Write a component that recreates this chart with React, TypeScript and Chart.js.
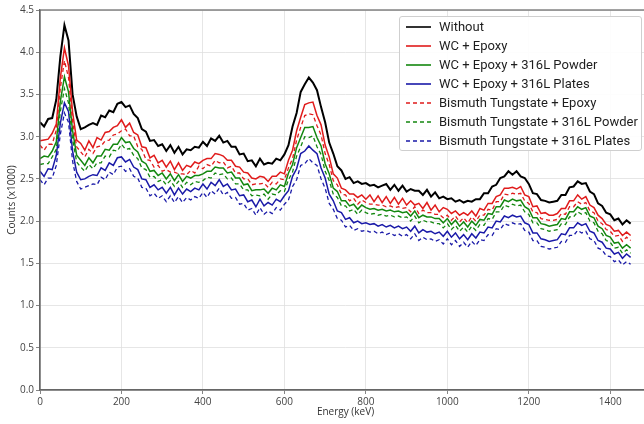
import React, { useEffect, useRef } from "react";
import { Chart, registerables } from "chart.js";

Chart.register(...registerables);

const energyKeV = [
  0, 10, 20, 30, 40, 50, 60, 70, 80, 90, 100, 110, 120, 130, 140, 150, 160, 170, 180, 190,
  200, 210, 220, 230, 240, 250, 260, 270, 280, 290, 300, 310, 320, 330, 340, 350, 360, 370, 380, 390,
  400, 410, 420, 430, 440, 450, 460, 470, 480, 490, 500, 510, 520, 530, 540, 550, 560, 570, 580, 590,
  600, 610, 620, 630, 640, 650, 660, 670, 680, 690, 700, 710, 720, 730, 740, 750, 760, 770, 780, 790,
  800, 810, 820, 830, 840, 850, 860, 870, 880, 890, 900, 910, 920, 930, 940, 950, 960, 970, 980, 990,
  1000, 1010, 1020, 1030, 1040, 1050, 1060, 1070, 1080, 1090, 1100, 1110, 1120, 1130, 1140, 1150, 1160, 1170, 1180, 1190,
  1200, 1210, 1220, 1230, 1240, 1250, 1260, 1270, 1280, 1290, 1300, 1310, 1320, 1330, 1340, 1350, 1360, 1370, 1380, 1390,
  1400, 1410, 1420, 1430, 1440, 1450,
];

const without = [
  3.17, 3.12, 3.21, 3.22, 3.44, 3.95, 4.32, 4.14, 3.50, 3.24, 3.09, 3.11, 3.14, 3.16, 3.14, 3.25, 3.23, 3.31, 3.29, 3.39,
  3.41, 3.35, 3.37, 3.27, 3.22, 3.09, 3.06, 2.95, 2.96, 2.89, 2.91, 2.83, 2.90, 2.81, 2.88, 2.79, 2.85, 2.84, 2.88, 2.87,
  2.94, 2.89, 2.98, 2.95, 3.01, 2.93, 2.95, 2.88, 2.88, 2.79, 2.80, 2.71, 2.72, 2.65, 2.74, 2.67, 2.69, 2.68, 2.74, 2.72,
  2.79, 2.90, 3.12, 3.28, 3.53, 3.62, 3.70, 3.64, 3.55, 3.35, 3.17, 2.93, 2.80, 2.65, 2.60, 2.50, 2.52, 2.45, 2.47, 2.44,
  2.45, 2.42, 2.43, 2.40, 2.42, 2.44, 2.37, 2.43, 2.36, 2.42, 2.35, 2.38, 2.36, 2.36, 2.31, 2.37, 2.29, 2.34, 2.27, 2.29,
  2.26, 2.27, 2.23, 2.25, 2.22, 2.24, 2.23, 2.26, 2.26, 2.33, 2.33, 2.41, 2.43, 2.51, 2.53, 2.59, 2.55, 2.59, 2.53, 2.51,
  2.44, 2.33, 2.32, 2.25, 2.24, 2.22, 2.23, 2.24, 2.31, 2.31, 2.40, 2.41, 2.47, 2.44, 2.45, 2.35, 2.32, 2.21, 2.18, 2.10,
  2.08, 2.01, 2.03, 1.96, 2.01, 1.97,
];

const wcEpoxy = [
  2.95, 2.96, 2.97, 3.04, 3.15, 3.70, 4.05, 3.84, 3.29, 2.96, 2.92, 2.84, 2.95, 2.87, 2.99, 2.96, 3.05, 3.06, 3.11, 3.13,
  3.20, 3.11, 3.16, 3.05, 3.02, 2.88, 2.87, 2.75, 2.78, 2.69, 2.72, 2.64, 2.71, 2.61, 2.69, 2.60, 2.66, 2.64, 2.70, 2.68,
  2.72, 2.74, 2.74, 2.80, 2.79, 2.77, 2.72, 2.72, 2.65, 2.64, 2.58, 2.57, 2.51, 2.50, 2.53, 2.52, 2.47, 2.53, 2.53, 2.58,
  2.56, 2.72, 2.84, 3.07, 3.23, 3.38, 3.40, 3.41, 3.25, 3.14, 2.90, 2.76, 2.56, 2.51, 2.39, 2.37, 2.32, 2.32, 2.28, 2.31,
  2.26, 2.31, 2.23, 2.30, 2.22, 2.29, 2.21, 2.28, 2.20, 2.27, 2.19, 2.24, 2.19, 2.21, 2.15, 2.22, 2.13, 2.19, 2.11, 2.16,
  2.14, 2.09, 2.12, 2.07, 2.10, 2.07, 2.12, 2.06, 2.15, 2.13, 2.21, 2.21, 2.29, 2.31, 2.39, 2.39, 2.40, 2.38, 2.41, 2.31,
  2.29, 2.17, 2.18, 2.09, 2.10, 2.07, 2.07, 2.09, 2.15, 2.15, 2.24, 2.24, 2.31, 2.26, 2.29, 2.19, 2.16, 2.07, 2.03, 1.96,
  1.94, 1.88, 1.89, 1.83, 1.87, 1.83,
];

const wcEpoxyPowder = [
  2.74, 2.77, 2.76, 2.83, 2.94, 3.42, 3.71, 3.53, 3.07, 2.78, 2.72, 2.66, 2.75, 2.69, 2.77, 2.77, 2.85, 2.84, 2.91, 2.91,
  2.99, 2.93, 2.94, 2.86, 2.82, 2.71, 2.68, 2.59, 2.60, 2.54, 2.57, 2.50, 2.56, 2.48, 2.55, 2.47, 2.53, 2.51, 2.54, 2.54,
  2.56, 2.59, 2.59, 2.64, 2.63, 2.63, 2.57, 2.58, 2.51, 2.51, 2.43, 2.44, 2.36, 2.37, 2.37, 2.38, 2.33, 2.39, 2.37, 2.43,
  2.41, 2.57, 2.67, 2.87, 2.99, 3.11, 3.11, 3.12, 2.99, 2.89, 2.68, 2.56, 2.39, 2.35, 2.24, 2.24, 2.18, 2.20, 2.14, 2.19,
  2.16, 2.14, 2.15, 2.13, 2.14, 2.12, 2.13, 2.11, 2.12, 2.10, 2.11, 2.06, 2.12, 2.04, 2.07, 2.05, 2.05, 2.03, 2.03, 1.98,
  2.03, 1.96, 2.01, 1.94, 1.99, 1.93, 2.00, 1.95, 2.02, 2.01, 2.09, 2.08, 2.17, 2.17, 2.25, 2.23, 2.26, 2.24, 2.25, 2.17,
  2.14, 2.04, 2.04, 1.97, 1.96, 1.94, 1.95, 1.96, 2.03, 2.02, 2.11, 2.11, 2.17, 2.14, 2.16, 2.06, 2.04, 1.94, 1.91, 1.83,
  1.81, 1.74, 1.75, 1.68, 1.72, 1.68,
];

const wcEpoxyPlates = [
  2.59, 2.53, 2.62, 2.61, 2.78, 3.16, 3.40, 3.30, 2.83, 2.58, 2.49, 2.50, 2.53, 2.55, 2.54, 2.63, 2.60, 2.69, 2.66, 2.75,
  2.76, 2.70, 2.73, 2.64, 2.61, 2.50, 2.49, 2.40, 2.43, 2.37, 2.40, 2.33, 2.40, 2.31, 2.39, 2.32, 2.38, 2.35, 2.39, 2.37,
  2.44, 2.38, 2.46, 2.42, 2.49, 2.41, 2.44, 2.37, 2.38, 2.30, 2.31, 2.23, 2.25, 2.17, 2.26, 2.18, 2.22, 2.19, 2.26, 2.23,
  2.30, 2.36, 2.53, 2.62, 2.80, 2.83, 2.89, 2.84, 2.80, 2.63, 2.51, 2.32, 2.24, 2.12, 2.10, 2.02, 2.04, 1.98, 2.00, 1.97,
  1.98, 1.96, 1.97, 1.94, 1.96, 1.93, 1.95, 1.92, 1.94, 1.91, 1.93, 1.88, 1.94, 1.86, 1.90, 1.87, 1.88, 1.85, 1.87, 1.82,
  1.88, 1.81, 1.86, 1.79, 1.84, 1.78, 1.85, 1.80, 1.87, 1.86, 1.93, 1.92, 2.00, 1.99, 2.06, 2.04, 2.07, 2.05, 2.06, 1.98,
  1.96, 1.86, 1.86, 1.79, 1.78, 1.76, 1.77, 1.78, 1.85, 1.84, 1.92, 1.92, 1.98, 1.95, 1.97, 1.88, 1.86, 1.77, 1.75, 1.68,
  1.67, 1.61, 1.63, 1.56, 1.61, 1.57,
];

const btEpoxy = [
  2.90, 2.84, 2.91, 2.91, 3.08, 3.58, 3.90, 3.70, 3.18, 2.88, 2.82, 2.76, 2.85, 2.80, 2.88, 2.89, 2.95, 2.96, 3.02, 3.03,
  3.07, 3.09, 3.01, 3.01, 2.88, 2.85, 2.73, 2.72, 2.64, 2.66, 2.59, 2.61, 2.58, 2.58, 2.56, 2.56, 2.55, 2.60, 2.57, 2.65,
  2.62, 2.67, 2.65, 2.72, 2.69, 2.70, 2.63, 2.65, 2.57, 2.57, 2.50, 2.50, 2.43, 2.44, 2.44, 2.45, 2.40, 2.46, 2.44, 2.50,
  2.49, 2.63, 2.74, 2.96, 3.11, 3.25, 3.27, 3.26, 3.13, 3.02, 2.80, 2.67, 2.48, 2.43, 2.32, 2.31, 2.24, 2.27, 2.20, 2.25,
  2.22, 2.20, 2.20, 2.19, 2.19, 2.17, 2.18, 2.16, 2.17, 2.15, 2.16, 2.11, 2.17, 2.09, 2.13, 2.10, 2.10, 2.08, 2.08, 2.04,
  2.07, 2.01, 2.06, 1.99, 2.04, 1.98, 2.05, 2.00, 2.07, 2.07, 2.14, 2.13, 2.23, 2.23, 2.32, 2.31, 2.33, 2.32, 2.33, 2.24,
  2.21, 2.11, 2.10, 2.03, 2.02, 2.01, 2.01, 2.02, 2.09, 2.08, 2.17, 2.17, 2.23, 2.20, 2.22, 2.12, 2.10, 2.00, 1.97, 1.90,
  1.88, 1.82, 1.83, 1.76, 1.81, 1.77,
];

const btPowder = [
  2.67, 2.68, 2.68, 2.76, 2.85, 3.30, 3.57, 3.40, 2.97, 2.70, 2.64, 2.59, 2.67, 2.62, 2.69, 2.69, 2.77, 2.76, 2.84, 2.83,
  2.91, 2.85, 2.86, 2.78, 2.74, 2.63, 2.61, 2.52, 2.53, 2.47, 2.49, 2.43, 2.48, 2.41, 2.47, 2.40, 2.46, 2.43, 2.47, 2.46,
  2.48, 2.52, 2.51, 2.57, 2.55, 2.56, 2.50, 2.51, 2.44, 2.44, 2.37, 2.37, 2.30, 2.31, 2.30, 2.32, 2.26, 2.32, 2.31, 2.36,
  2.35, 2.49, 2.58, 2.77, 2.88, 3.00, 2.99, 3.01, 2.88, 2.79, 2.59, 2.48, 2.32, 2.28, 2.18, 2.18, 2.12, 2.14, 2.08, 2.13,
  2.10, 2.08, 2.09, 2.07, 2.08, 2.06, 2.07, 2.05, 2.06, 2.04, 2.05, 2.00, 2.06, 1.98, 2.01, 1.99, 1.99, 1.97, 1.97, 1.92,
  1.97, 1.90, 1.95, 1.88, 1.93, 1.87, 1.94, 1.89, 1.96, 1.95, 2.03, 2.02, 2.11, 2.11, 2.19, 2.17, 2.20, 2.18, 2.19, 2.11,
  2.08, 1.98, 1.98, 1.91, 1.90, 1.88, 1.89, 1.90, 1.97, 1.96, 2.05, 2.05, 2.11, 2.08, 2.10, 2.00, 1.98, 1.88, 1.85, 1.77,
  1.75, 1.68, 1.69, 1.62, 1.66, 1.62,
];

const btPlates = [
  2.49, 2.43, 2.51, 2.51, 2.66, 3.03, 3.28, 3.17, 2.71, 2.47, 2.38, 2.40, 2.42, 2.44, 2.43, 2.52, 2.49, 2.58, 2.55, 2.64,
  2.65, 2.59, 2.62, 2.53, 2.51, 2.40, 2.39, 2.30, 2.33, 2.27, 2.30, 2.23, 2.30, 2.22, 2.29, 2.22, 2.28, 2.25, 2.29, 2.27,
  2.34, 2.28, 2.36, 2.32, 2.39, 2.31, 2.34, 2.27, 2.28, 2.20, 2.21, 2.13, 2.15, 2.07, 2.16, 2.08, 2.12, 2.09, 2.16, 2.13,
  2.20, 2.25, 2.41, 2.49, 2.66, 2.68, 2.74, 2.69, 2.66, 2.50, 2.39, 2.21, 2.14, 2.03, 2.01, 1.93, 1.95, 1.89, 1.91, 1.88,
  1.89, 1.87, 1.88, 1.85, 1.87, 1.84, 1.86, 1.83, 1.85, 1.82, 1.84, 1.79, 1.85, 1.77, 1.81, 1.78, 1.79, 1.76, 1.78, 1.73,
  1.79, 1.72, 1.77, 1.70, 1.75, 1.69, 1.76, 1.71, 1.78, 1.77, 1.84, 1.83, 1.91, 1.90, 1.97, 1.95, 1.98, 1.96, 1.97, 1.89,
  1.87, 1.77, 1.77, 1.70, 1.69, 1.67, 1.68, 1.69, 1.76, 1.75, 1.83, 1.83, 1.89, 1.86, 1.88, 1.79, 1.77, 1.68, 1.66, 1.59,
  1.58, 1.52, 1.54, 1.48, 1.52, 1.49,
];

const seriesLabels = [
  "Without",
  "WC + Epoxy",
  "WC + Epoxy + 316L Powder",
  "WC + Epoxy + 316L Plates",
  "Bismuth Tungstate + Epoxy",
  "Bismuth Tungstate + 316L Powder",
  "Bismuth Tungstate + 316L Plates",
];
const seriesValues = [without, wcEpoxy, wcEpoxyPowder, wcEpoxyPlates, btEpoxy, btPowder, btPlates];
const seriesColors = ["#000000", "#e01b1b", "#13870f", "#1a1aa8", "#e01b1b", "#13870f", "#1a1aa8"];
const seriesDashed = [false, false, false, false, true, true, true];
const seriesWidths = [2, 1.5, 1.5, 1.5, 1.3, 1.3, 1.3];

const xTicks = [0, 200, 400, 600, 800, 1000, 1200, 1400];
const yTicks = [0, 0.5, 1, 1.5, 2, 2.5, 3, 3.5, 4, 4.5];

const FONT = "'Open Sans', 'Noto Sans', sans-serif";

const framePlugin = {
  id: "frame",
  afterDraw(chart: any) {
    const { ctx, chartArea: a } = chart;
    ctx.save();
    ctx.strokeStyle = "#666666";
    ctx.lineWidth = 1.2;
    ctx.strokeRect(a.left, a.top, a.right - a.left, a.bottom - a.top);
    ctx.restore();
  },
};

function LegendBox() {
  return (
    <div
      style={{
        position: "absolute",
        left: 399,
        top: 16,
        width: 243,
        height: 135,
        background: "rgba(255,255,255,0.92)",
        border: "1px solid #cfcfcf",
        borderRadius: 3,
        fontFamily: "Roboto, 'Noto Sans', sans-serif",
        fontSize: 13,
        color: "#1e1e1e",
        boxSizing: "border-box",
        paddingTop: 0,
      }}
    >
      {seriesLabels.map((label, i) => (
        <div key={label} style={{ height: 19, display: "flex", alignItems: "center", whiteSpace: "nowrap" }}>
          <svg width={34} height={19} style={{ marginLeft: 5, flex: "none" }}>
            <line
              x1={1}
              y1={10}
              x2={26}
              y2={10}
              stroke={seriesColors[i]}
              strokeWidth={1.6}
              strokeDasharray={seriesDashed[i] ? "4 3" : undefined}
            />
          </svg>
          <span>{label}</span>
        </div>
      ))}
    </div>
  );
}

export default function App() {
  const canvasRef = useRef<HTMLCanvasElement | null>(null);

  useEffect(() => {
    const canvas = canvasRef.current;
    if (!canvas) return;
    const datasets = seriesValues.map((vals, i) => ({
      label: seriesLabels[i],
      data: energyKeV.map((e, j) => ({ x: e, y: vals[j] })),
      borderColor: seriesColors[i],
      backgroundColor: seriesColors[i],
      borderWidth: seriesWidths[i],
      borderDash: seriesDashed[i] ? [4, 3] : [],
      pointRadius: 0,
      tension: 0,
      fill: false,
      order: 7 - i,
    }));
    const chart = new Chart(canvas, {
      type: "line",
      data: { datasets },
      plugins: [framePlugin],
      options: {
        animation: false,
        responsive: true,
        maintainAspectRatio: false,
        layout: { padding: { top: 10, left: 0, right: 0, bottom: 0 } },
        plugins: { legend: { display: false }, tooltip: { enabled: false } },
        scales: {
          x: {
            type: "linear",
            min: 0,
            max: 1500,
            afterBuildTicks: (scale: any) => {
              scale.ticks = xTicks.map((v) => ({ value: v }));
            },
            afterFit: (scale: any) => {
              scale.height = 34;
            },
            ticks: {
              font: { family: FONT, size: 10 },
              color: "#444444",
              padding: 2,
              maxRotation: 0,
              callback: (v: any) => String(v),
            },
            grid: { color: "#e0e0e0", lineWidth: 0.8, tickColor: "#666666", tickLength: 4 },
            border: { color: "#666666", width: 1.2 },
            title: {
              display: true,
              text: "Energy (keV)",
              font: { family: FONT, size: 10 },
              color: "#333333",
              padding: { top: 0, bottom: 6 },
            },
          },
          y: {
            type: "linear",
            min: 0,
            max: 4.5,
            afterBuildTicks: (scale: any) => {
              scale.ticks = yTicks.map((v) => ({ value: v }));
            },
            afterFit: (scale: any) => {
              scale.width = 40;
            },
            ticks: {
              font: { family: FONT, size: 10 },
              color: "#444444",
              padding: 2,
              callback: (v: any) => Number(v).toFixed(1),
            },
            grid: { color: "#e0e0e0", lineWidth: 0.8, tickColor: "#666666", tickLength: 4 },
            border: { color: "#666666", width: 1.2 },
            title: {
              display: true,
              text: "Counts (x1000)",
              font: { family: FONT, size: 10 },
              color: "#333333",
              padding: { top: 6, bottom: 0 },
            },
          },
        },
      },
    });
    return () => chart.destroy();
  }, []);

  return (
    <div style={{ position: "fixed", left: 0, top: 0, width: 644, height: 424, overflow: "hidden", background: "#fff" }}>
      <div style={{ position: "absolute", left: 0, top: 0, width: 651, height: 424 }}>
        <canvas ref={canvasRef} />
      </div>
      <LegendBox />
    </div>
  );
}
